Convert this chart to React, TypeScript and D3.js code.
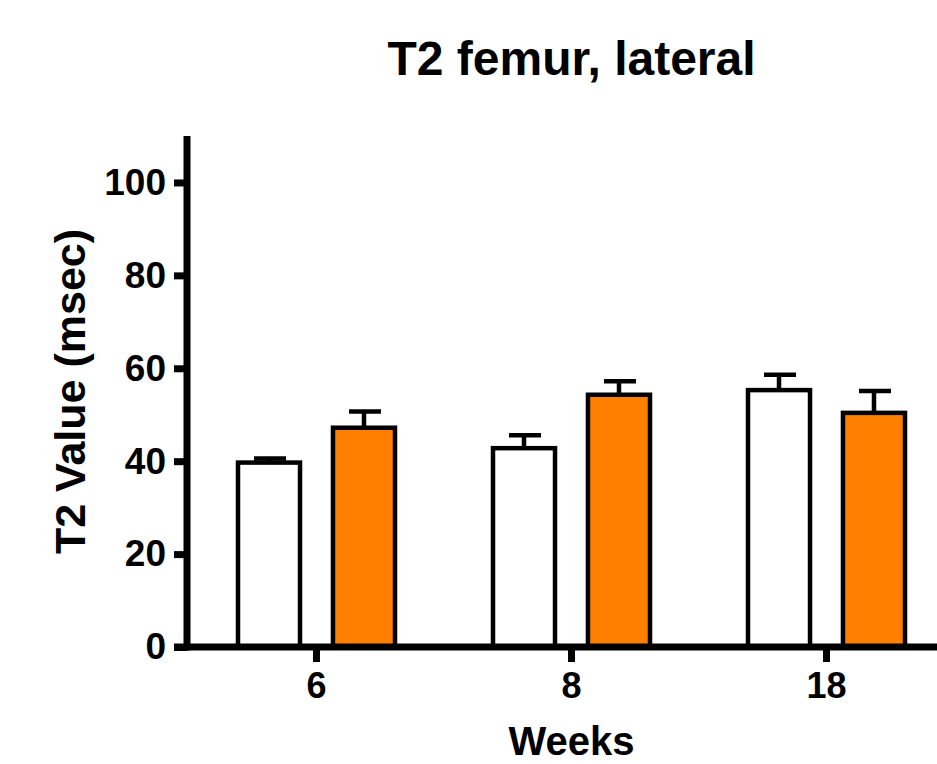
import React, { useEffect, useRef } from 'react';
import * as d3 from 'd3';

const width = 937;
const height = 764;

// data
const weeks = ['6', '8', '18'];
const groups = ['control', 'treated'];
const controlMean = [39.7, 42.8, 55.3];
const controlSem = [0.9, 2.8, 3.3];
const treatedMean = [47.2, 54.3, 50.4];
const treatedSem = [3.5, 2.9, 4.7];
const yTicks = [0, 20, 40, 60, 80, 100];
const groupColors = ['#ffffff', '#ff8000'];

const font = '"Liberation Sans", Arial, Helvetica, sans-serif';

export default function App() {
  const ref = useRef<SVGSVGElement>(null);

  useEffect(() => {
    const svg = d3.select(ref.current);
    svg.selectAll('*').remove();

    const x0 = d3.scaleBand<string>().domain(weeks).range([189, 954]);
    const x1 = d3.scaleBand<string>().domain(groups).range([-78.5, 78.5]).paddingInner(0.347);
    const y = d3.scaleLinear().domain([0, 110]).range([647, 136]);

    const rows = weeks.flatMap((w, i) => [
      { week: w, group: groups[0], mean: controlMean[i], sem: controlSem[i], color: groupColors[0] },
      { week: w, group: groups[1], mean: treatedMean[i], sem: treatedSem[i], color: groupColors[1] },
    ]);
    const cx = (d: any) => (x0(d.week) as number) + x0.bandwidth() / 2 + (x1(d.group) as number);

    // error bars (drawn under the bars so the stem starts at bar top)
    const err = svg.append('g').attr('stroke', '#000').attr('stroke-width', 4.5);
    err.selectAll('line.stem')
      .data(rows)
      .enter().append('line')
      .attr('class', 'stem')
      .attr('x1', d => cx(d) + x1.bandwidth() / 2)
      .attr('x2', d => cx(d) + x1.bandwidth() / 2)
      .attr('y1', d => y(d.mean))
      .attr('y2', d => y(d.mean + d.sem));
    err.selectAll('line.cap')
      .data(rows)
      .enter().append('line')
      .attr('class', 'cap')
      .attr('x1', d => cx(d) + x1.bandwidth() / 2 - 15)
      .attr('x2', d => cx(d) + x1.bandwidth() / 2 + 17)
      .attr('y1', d => y(d.mean + d.sem))
      .attr('y2', d => y(d.mean + d.sem));

    // bars
    svg.append('g')
      .selectAll('rect')
      .data(rows)
      .enter().append('rect')
      .attr('x', d => cx(d))
      .attr('width', x1.bandwidth())
      .attr('y', d => y(d.mean))
      .attr('height', d => y(0) - y(d.mean))
      .attr('fill', d => d.color)
      .attr('stroke', '#000')
      .attr('stroke-width', 4.5);

    // y axis
    const yAxisG = svg.append('g')
      .attr('transform', 'translate(187,0)')
      .call(d3.axisLeft(y).tickValues(yTicks).tickSize(13).tickPadding(8));
    yAxisG.select('.domain').remove();
    yAxisG.selectAll('line').attr('stroke', '#000').attr('stroke-width', 7);
    yAxisG.selectAll('text')
      .attr('fill', '#000')
      .style('font', `bold 37px ${font}`);
    svg.append('line')
      .attr('x1', 187).attr('x2', 187)
      .attr('y1', y(110)).attr('y2', y(0) + 3.5)
      .attr('stroke', '#000').attr('stroke-width', 7);

    // x axis
    const xAxisG = svg.append('g')
      .attr('transform', `translate(0,${y(0)})`)
      .call(d3.axisBottom(x0).tickSize(15).tickPadding(10));
    xAxisG.select('.domain').remove();
    xAxisG.selectAll('line').attr('stroke', '#000').attr('stroke-width', 7);
    xAxisG.selectAll('text')
      .attr('fill', '#000')
      .style('font', `bold 36px ${font}`);
    svg.append('line')
      .attr('x1', 174).attr('x2', width)
      .attr('y1', y(0)).attr('y2', y(0))
      .attr('stroke', '#000').attr('stroke-width', 7);

    // titles
    const midX = (x0.range()[0] + x0.range()[1]) / 2;
    svg.append('text')
      .attr('x', midX).attr('y', 75)
      .attr('text-anchor', 'middle')
      .style('font', `bold 48px ${font}`)
      .text('T2 femur, lateral');

    svg.append('text')
      .attr('x', midX).attr('y', 755)
      .attr('text-anchor', 'middle')
      .style('font', `bold 40px ${font}`)
      .text('Weeks');

    svg.append('text')
      .attr('transform', `translate(85,${(y(0) + y(110)) / 2}) rotate(-90)`)
      .attr('text-anchor', 'middle')
      .style('font', `bold 43px ${font}`)
      .text('T2 Value (msec)');
  }, []);

  return (
    <div style={{ position: 'absolute', left: 0, top: 0 }}>
      <svg ref={ref} width={width} height={height} style={{ display: 'block', background: '#fff' }} />
    </div>
  );
}
